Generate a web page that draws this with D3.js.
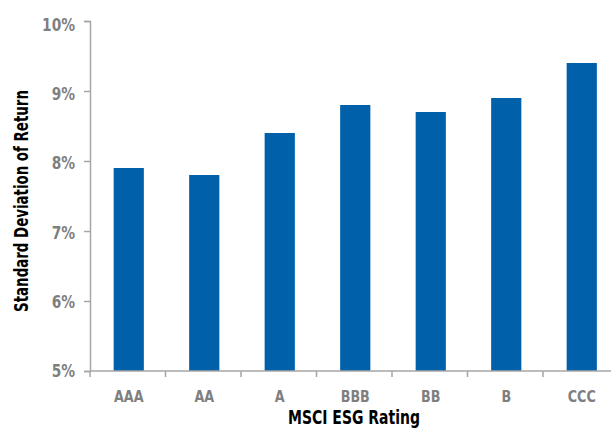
<!DOCTYPE html>
<html>
<head>
<meta charset="utf-8">
<script src="https://cdn.jsdelivr.net/npm/d3@7"></script>
<style>
  html, body { margin: 0; padding: 0; background: #fff; }
  svg { display: block; }
  text { font-family: "DejaVu Sans Condensed", "Liberation Sans Narrow", sans-serif; font-weight: bold; }
</style>
</head>
<body>
<svg id="chart" width="611" height="429"></svg>
<script>
const categories = ["AAA", "AA", "A", "BBB", "BB", "B", "CCC"];
const stdDev = [7.9, 7.8, 8.4, 8.8, 8.7, 8.9, 9.4];
const yTicks = [5, 6, 7, 8, 9, 10];

const svg = d3.select("#chart");
const x = d3.scaleBand().domain(categories).range([91, 619.5]).paddingInner(0.6).paddingOuter(0.3);
const y = d3.scaleLinear().domain([5, 10]).range([371, 21]);
const yLab = d3.scaleLinear().domain([5, 10]).range([371, 25]);
const axisColor = "#a6a6a6";
const tickColor = "#7f7f7f";

// bars
svg.append("g").selectAll("rect").data(categories).join("rect")
  .attr("x", d => x(d))
  .attr("width", x.bandwidth())
  .attr("y", (d, i) => y(stdDev[i]))
  .attr("height", (d, i) => y(5) - y(stdDev[i]))
  .attr("fill", "#0060a9");

// y axis
const yAxis = svg.append("g").attr("transform", "translate(90,0)")
  .call(d3.axisLeft(y).tickValues(yTicks).tickFormat("").tickSize(6));
yAxis.select(".domain").attr("stroke", axisColor).attr("stroke-width", 1.5);
yAxis.selectAll(".tick line").attr("stroke", axisColor).attr("stroke-width", 1.5);
svg.append("g").selectAll("text").data(yTicks).join("text")
  .attr("transform", d => `translate(75,${yLab(d) + 6}) scale(0.9,1)`)
  .attr("text-anchor", "end")
  .attr("fill", tickColor).attr("font-size", 17)
  .text(d => d + "%");

// x axis with ticks between categories
const step = x.step();
const bounds = d3.range(categories.length + 1).map(i => 91 + i * step - 1);
const xg = svg.append("g");
xg.append("line").attr("x1", 90).attr("x2", 611).attr("y1", 371).attr("y2", 371)
  .attr("stroke", axisColor).attr("stroke-width", 1.5);
xg.selectAll("line.tk").data(bounds).join("line").attr("class", "tk")
  .attr("x1", d => d).attr("x2", d => d).attr("y1", 371).attr("y2", 377)
  .attr("stroke", axisColor).attr("stroke-width", 1.5);
xg.selectAll("text").data(categories).join("text")
  .attr("transform", d => `translate(${x(d) + x.bandwidth() / 2},402) scale(0.86,1)`)
  .attr("text-anchor", "middle")
  .attr("fill", tickColor).attr("font-size", 16.5)
  .text(d => d);

// axis titles
function fitTitle(sel, target) {
  const w = sel.node().getComputedTextLength();
  return target / w;
}
const xt = svg.append("text").attr("text-anchor", "middle")
  .attr("fill", "#000").attr("font-size", 20)
  .text("MSCI ESG Rating");
xt.attr("transform", `translate(354,423.5) scale(${fitTitle(xt, 132)},1)`);

const yt = svg.append("text").attr("text-anchor", "middle")
  .attr("fill", "#000").attr("font-size", 20)
  .text("Standard Deviation of Return");
yt.attr("transform", `translate(28,201) rotate(-90) scale(${fitTitle(yt, 222)},1)`);
</script>
</body>
</html>
